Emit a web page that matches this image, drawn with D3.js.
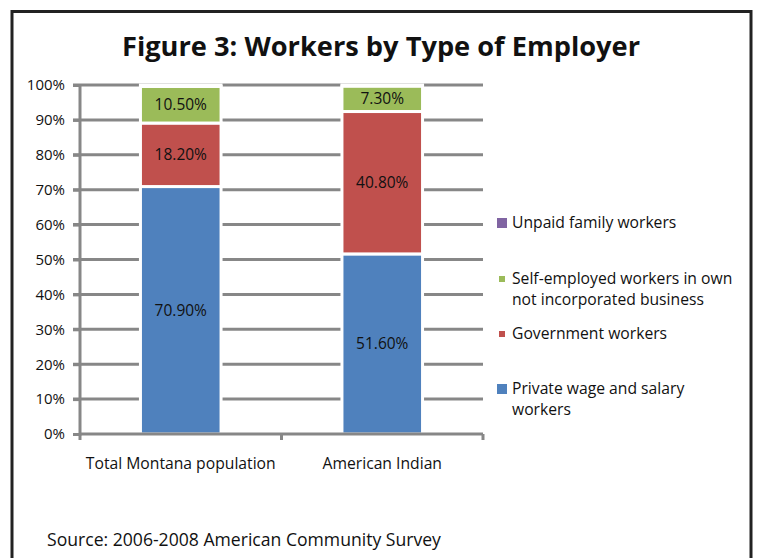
<!DOCTYPE html>
<html>
<head>
<meta charset="utf-8">
<script src="https://cdn.jsdelivr.net/npm/d3@7"></script>
<style>
  body { margin: 0; background: #fff; }
  text { font-family: "Open Sans", "Liberation Sans", sans-serif; fill: #111; }
</style>
</head>
<body>
<svg id="chart" width="757" height="558"></svg>
<script>
// chart data
const categories = ["Total Montana population", "American Indian"];
const seriesNames = ["Private wage and salary workers", "Government workers",
  "Self-employed workers in own not incorporated business", "Unpaid family workers"];
const privateWage = [70.9, 51.6];
const government = [18.2, 40.8];
const selfEmployed = [10.5, 7.3];
const unpaidFamily = [0.4, 0.3];
const yTicks = [0, 10, 20, 30, 40, 50, 60, 70, 80, 90, 100];

const colors = ["#4f81bd", "#c0504d", "#9bbb59", "#8064a2"];
const seriesValues = [privateWage, government, selfEmployed, unpaidFamily];

const svg = d3.select("#chart");

// outer frame
svg.append("rect")
  .attr("x", 12).attr("y", 11.5).attr("width", 739).attr("height", 600)
  .attr("fill", "none").attr("stroke", "#222").attr("stroke-width", 3);

// title, squeezed to the reference width
const title = svg.append("text")
  .attr("x", 381).attr("y", 56).attr("text-anchor", "middle")
  .style("font-weight", "bold").style("font-size", "27px")
  .text("Figure 3: Workers by Type of Employer");
title.attr("textLength", 518).attr("lengthAdjust", "spacingAndGlyphs");

const plotL = 80, plotR = 483, plotT = 85, plotB = 434;

const y = d3.scaleLinear().domain([0, 100]).range([plotB, plotT]);
const x = d3.scaleBand().domain(categories).range([plotL, plotR])
  .paddingInner(0.6).paddingOuter(0.3);

// gridlines
svg.append("g").selectAll("line")
  .data(yTicks.filter(d => d > 0))
  .join("line")
  .attr("x1", plotL - 7).attr("x2", plotR)
  .attr("y1", d => y(d)).attr("y2", d => y(d))
  .attr("stroke", "#878787").attr("stroke-width", 3);

// y axis labels
const yAxis = svg.append("g")
  .attr("transform", `translate(${plotL},0)`)
  .call(d3.axisLeft(y).tickValues(yTicks).tickFormat(d => d + "%").tickSize(7).tickPadding(8));
yAxis.select(".domain").remove();
yAxis.selectAll(".tick line").attr("stroke", "#878787").attr("stroke-width", 3);
yAxis.selectAll(".tick text").style("font-size", "15px").attr("fill", "#111")
  .style("font-family", "'Open Sans', sans-serif");

// stacked bars
const rows = categories.map((c, i) => {
  const r = { cat: c };
  seriesNames.forEach((s, j) => r[s] = seriesValues[j][i]);
  return r;
});
const stacked = d3.stack().keys(seriesNames)(rows);

const groups = svg.append("g").selectAll("g")
  .data(stacked).join("g")
  .attr("fill", (d, i) => colors[i]);

groups.selectAll("rect")
  .data(d => d)
  .join("rect")
  .attr("x", d => x(d.data.cat))
  .attr("width", x.bandwidth())
  .attr("y", d => y(d[1]))
  .attr("height", d => y(d[0]) - y(d[1]))
  .attr("stroke", "#fff").attr("stroke-width", 3);

// value labels (skip the tiny unpaid slice)
stacked.slice(0, 3).forEach(layer => {
  svg.append("g").selectAll("text")
    .data(layer).join("text")
    .attr("x", d => x(d.data.cat) + x.bandwidth() / 2)
    .attr("y", d => y((d[0] + d[1]) / 2))
    .attr("dy", "0.35em")
    .attr("text-anchor", "middle")
    .style("font-size", "15.5px")
    .text(d => (d[1] - d[0]).toFixed(2) + "%");
});

// x axis
const xAxis = svg.append("g")
  .attr("transform", `translate(0,${plotB})`);
xAxis.append("line").attr("x1", plotL).attr("x2", plotR)
  .attr("stroke", "#878787").attr("stroke-width", 3);
xAxis.selectAll("line.t")
  .data([plotL, (plotL + plotR) / 2, plotR]).join("line")
  .attr("class", "t")
  .attr("x1", d => d).attr("x2", d => d).attr("y1", 0).attr("y2", 6)
  .attr("stroke", "#878787").attr("stroke-width", 3);
// y axis line
svg.append("line").attr("x1", plotL).attr("x2", plotL).attr("y1", plotT).attr("y2", plotB + 1.5)
  .attr("stroke", "#878787").attr("stroke-width", 3);

svg.append("g").selectAll("text")
  .data(categories).join("text")
  .attr("x", d => x(d) + x.bandwidth() / 2)
  .attr("y", 469)
  .attr("text-anchor", "middle")
  .style("font-size", "15.7px")
  .text(d => d);

// legend (top to bottom, reverse of stacking)
const legendItems = [
  { color: colors[3], size: 10, lines: ["Unpaid family workers"], y: 223 },
  { color: colors[2], size: 6, lines: ["Self-employed workers in own", "not incorporated business"], y: 279 },
  { color: colors[1], size: 6, lines: ["Government workers"], y: 334 },
  { color: colors[0], size: 10, lines: ["Private wage and salary", "workers"], y: 389 }
];
const leg = svg.append("g").selectAll("g").data(legendItems).join("g");
leg.append("rect")
  .attr("x", d => 502 - d.size / 2).attr("y", d => d.y - d.size / 2)
  .attr("width", d => d.size).attr("height", d => d.size)
  .attr("fill", d => d.color);
leg.each(function(d) {
  d3.select(this).selectAll("text").data(d.lines).join("text")
    .attr("x", 512).attr("y", (l, i) => d.y + i * 21)
    .attr("dy", "0.35em")
    .style("font-size", "15.7px")
    .text(l => l);
});

// source
svg.append("text")
  .attr("x", 47).attr("y", 546)
  .style("font-size", "17.6px")
  .text("Source: 2006-2008 American Community Survey");
</script>
</body>
</html>
